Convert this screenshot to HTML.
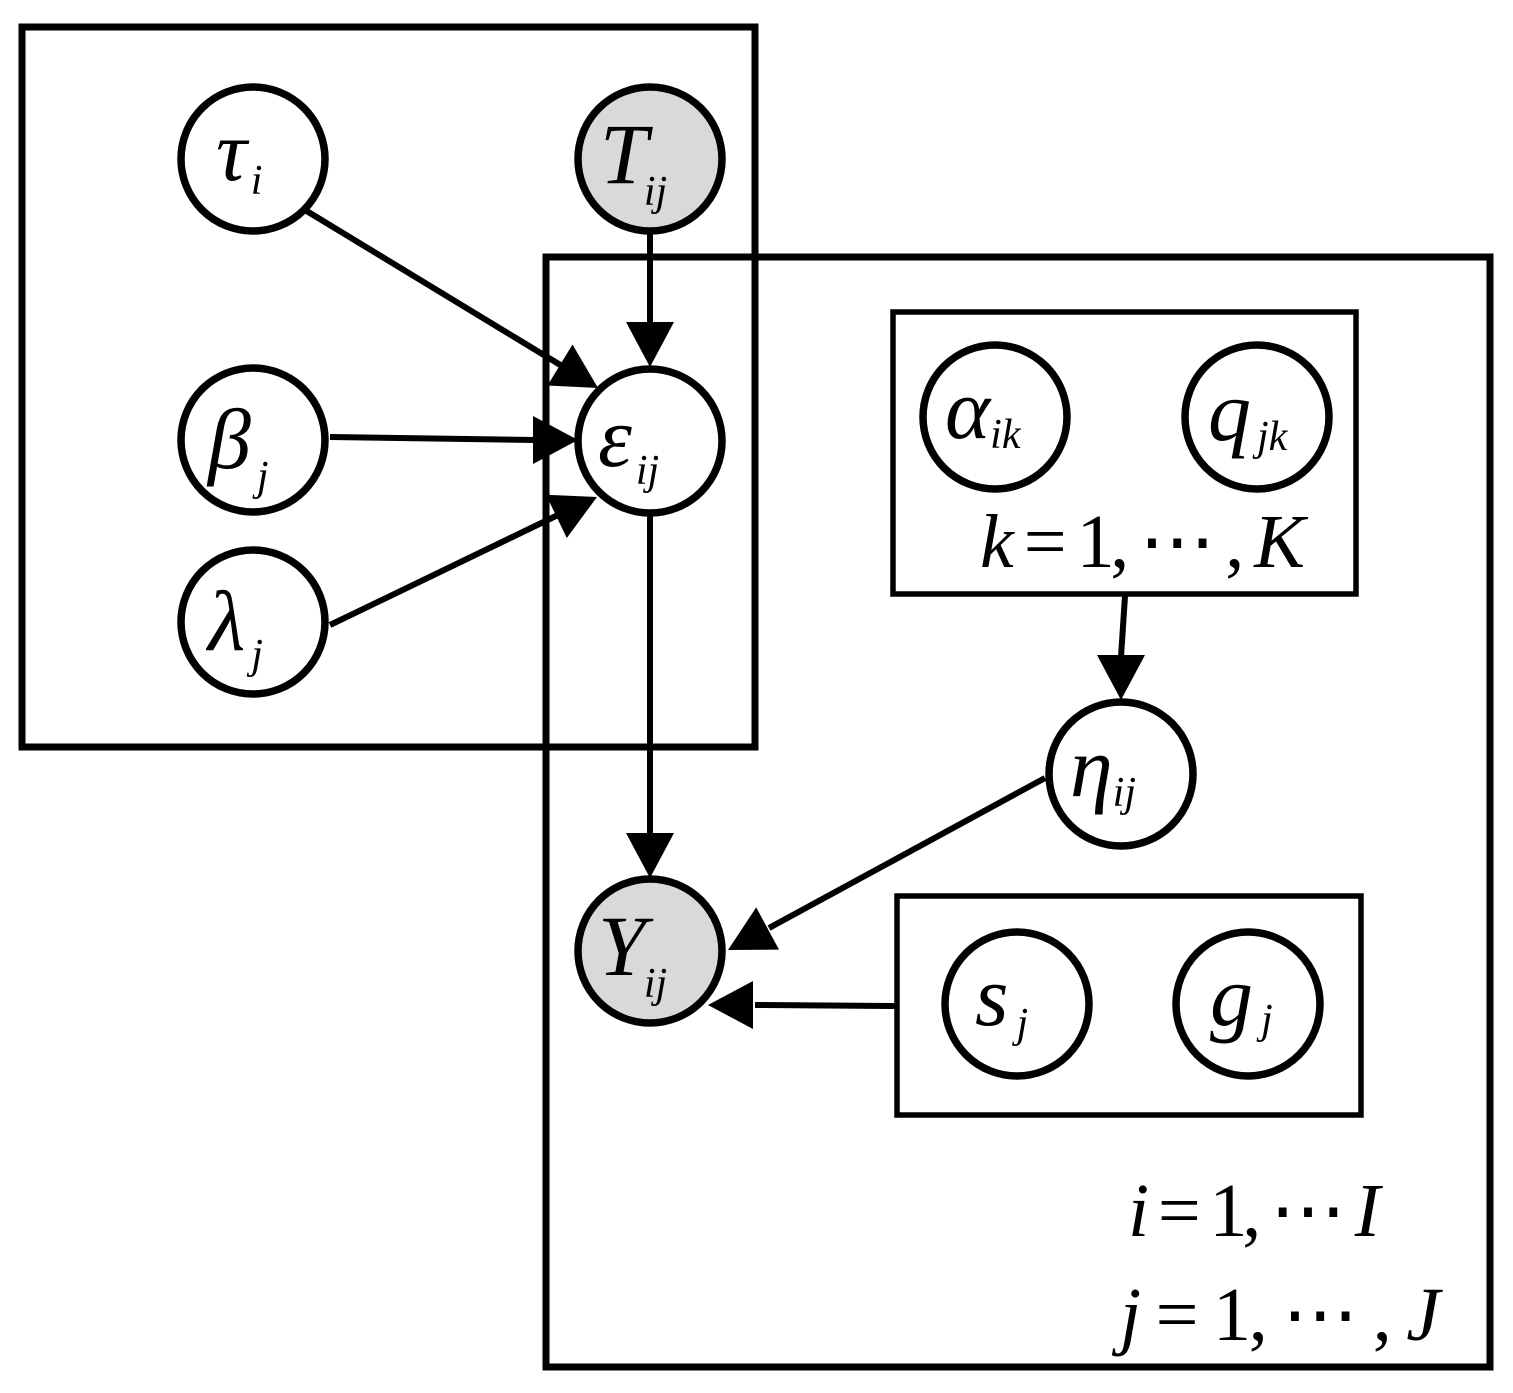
<!DOCTYPE html>
<html><head><meta charset="utf-8"><style>
html,body{margin:0;padding:0;background:#fff}
svg{display:block}
text{font-family:"Liberation Serif","DejaVu Serif",serif;font-style:italic;fill:#000}
</style></head><body>
<svg width="1513" height="1393" viewBox="0 0 1513 1393" xmlns="http://www.w3.org/2000/svg">
<g fill="none" stroke="#000" stroke-width="7">
<rect x="22" y="27" width="733" height="720"/>
<rect x="546" y="257" width="944" height="1110"/>
</g>
<g fill="none" stroke="#000" stroke-width="5.5">
<rect x="893" y="312" width="463" height="282"/>
<rect x="897" y="896" width="464" height="219"/>
</g>
<g stroke="#000" stroke-width="6" fill="none">
<line x1="305" y1="210" x2="562" y2="366"/>
<line x1="330" y1="437" x2="535" y2="440"/>
<line x1="330" y1="625" x2="558" y2="515"/>
<line x1="650" y1="232" x2="650" y2="324"/>
<line x1="650" y1="514" x2="650" y2="835"/>
<line x1="1125" y1="596" x2="1121" y2="657"/>
<line x1="1045" y1="778" x2="769" y2="928"/>
<line x1="895" y1="1006" x2="755" y2="1005"/>
</g>
<g fill="#000">
<polygon points="598,388 572.5,344.5 547.5,385.5"/>
<polygon points="578,440 533,416 533,464"/>
<polygon points="597,497 566.8,538 546,494.8"/>
<polygon points="650,367 626,322 674,322"/>
<polygon points="650,878 626,833 674,833"/>
<polygon points="1121,700 1097,655 1145,655"/>
<polygon points="728,950 756.2,907.4 779,949.6"/>
<polygon points="708,1005 753,981 753,1029"/>
</g>
<g stroke="#000" stroke-width="7.5" fill="#fff">
<circle cx="253" cy="159" r="72"/>
<circle cx="650" cy="159" r="72" fill="#d9d9d9"/>
<circle cx="253" cy="440" r="72"/>
<circle cx="650" cy="441" r="72"/>
<circle cx="253" cy="622" r="72"/>
<circle cx="995" cy="417" r="72"/>
<circle cx="1257" cy="417" r="72"/>
<circle cx="1121" cy="774" r="72"/>
<circle cx="650" cy="951" r="72" fill="#d9d9d9"/>
<circle cx="1017" cy="1004" r="72"/>
<circle cx="1248" cy="1004" r="72"/>
</g>
<g font-size="86">
<text x="216" y="180">τ<tspan font-size="42" dx="4" dy="14">i</tspan></text>
<text x="600" y="183">T<tspan font-size="42" dx="-4" dy="22">ij</tspan></text>
<text x="208" y="468">β<tspan font-size="42" dx="6" dy="22">j</tspan></text>
<text x="598" y="466">ε<tspan font-size="42" dx="4" dy="18">ij</tspan></text>
<text x="208" y="650">λ<tspan font-size="42" dx="6" dy="18">j</tspan></text>
<text x="945" y="438">α<tspan font-size="42" dx="0" dy="10">ik</tspan></text>
<text x="1208" y="440">q<tspan font-size="42" dx="6" dy="10">jk</tspan></text>
<text x="1070" y="796">η<tspan font-size="42" dx="0" dy="10">ij</tspan></text>
<text x="598" y="975">Y<tspan font-size="42" dx="-2" dy="22">ij</tspan></text>
<text x="975" y="1025">s<tspan font-size="42" dx="8" dy="12">j</tspan></text>
<text x="1210" y="1025">g<tspan font-size="42" dx="8" dy="8">j</tspan></text>
</g>
<g font-size="76">
<text x="980" y="567" textLength="325" lengthAdjust="spacing">k<tspan font-style="normal"> = 1, ⋯ , </tspan>K</text>
<text x="1128" y="1236" textLength="252" lengthAdjust="spacing">i<tspan font-style="normal"> = 1, ⋯ </tspan>I</text>
<text x="1120" y="1340" textLength="320" lengthAdjust="spacing">j<tspan font-style="normal"> = 1, ⋯ , </tspan>J</text>
</g>
</svg>
</body></html>
